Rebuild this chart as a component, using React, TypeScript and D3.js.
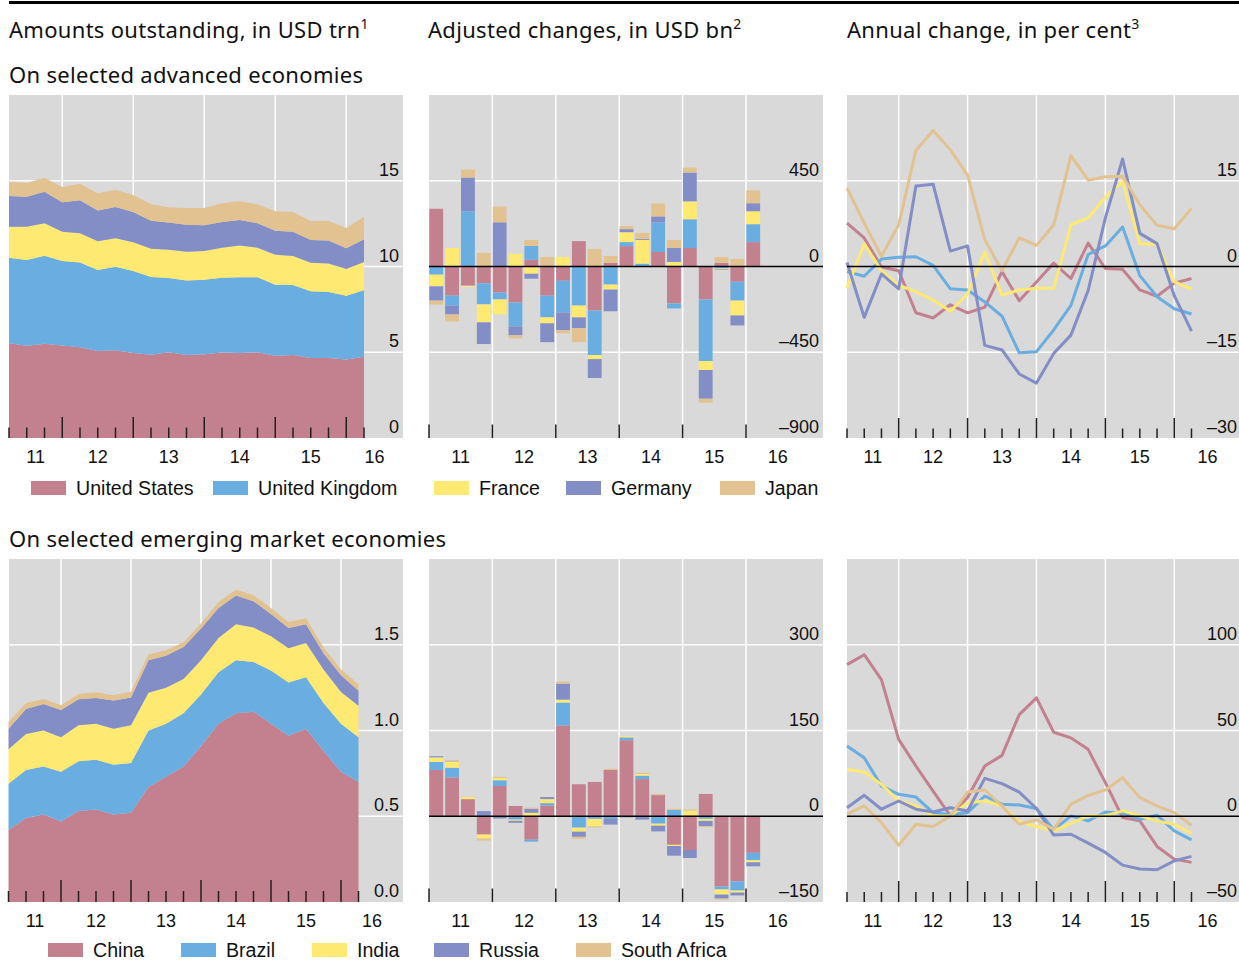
import React, { useEffect, useRef } from 'react';
import * as d3 from 'd3';

const WIDTH = 1239;
const HEIGHT = 961;

// quarters, Q1 2011 .. Q1 2016
const quarters = [
  '2011Q1', '2011Q2', '2011Q3', '2011Q4',
  '2012Q1', '2012Q2', '2012Q3', '2012Q4',
  '2013Q1', '2013Q2', '2013Q3', '2013Q4',
  '2014Q1', '2014Q2', '2014Q3', '2014Q4',
  '2015Q1', '2015Q2', '2015Q3', '2015Q4',
  '2016Q1',
];
const years = [2011, 2012, 2013, 2014, 2015, 2016];

const aeNames = ['United States', 'United Kingdom', 'France', 'Germany', 'Japan'];
const emNames = ['China', 'Brazil', 'India', 'Russia', 'South Africa'];
const colors = ['#c3808f', '#6aade0', '#fee972', '#838ec6', '#e2c290'];

// Amounts outstanding, USD trn
const usAmt = [5.52, 5.38, 5.50, 5.40, 5.29, 5.07, 5.11, 4.96, 4.86, 5.00, 4.84, 4.88, 4.98, 4.96, 5.00, 4.80, 4.84, 4.66, 4.66, 4.57, 4.74];
const ukAmt = [4.99, 5.00, 5.13, 4.92, 4.95, 4.73, 4.88, 4.78, 4.53, 4.33, 4.35, 4.35, 4.37, 4.41, 4.37, 4.14, 4.08, 3.89, 3.85, 3.73, 3.87];
const frAmt = [1.81, 1.94, 1.89, 1.71, 1.70, 1.67, 1.65, 1.67, 1.65, 1.65, 1.67, 1.67, 1.75, 1.86, 1.73, 1.75, 1.69, 1.67, 1.67, 1.55, 1.65];
const deAmt = [1.79, 1.75, 1.84, 1.71, 1.92, 1.79, 1.83, 1.77, 1.63, 1.58, 1.58, 1.50, 1.49, 1.48, 1.42, 1.40, 1.42, 1.33, 1.33, 1.21, 1.33];
const jpAmt = [0.84, 0.80, 0.82, 0.90, 0.97, 1.01, 1.01, 0.99, 0.96, 0.89, 0.97, 1.01, 1.10, 1.09, 1.11, 1.13, 1.15, 1.10, 1.14, 1.18, 1.31];

const cnAmt = [0.42, 0.49, 0.51, 0.47, 0.53, 0.54, 0.51, 0.52, 0.67, 0.73, 0.79, 0.91, 1.04, 1.10, 1.11, 1.04, 0.97, 1.01, 0.88, 0.76, 0.70];
const brAmt = [0.27, 0.28, 0.28, 0.29, 0.29, 0.29, 0.29, 0.29, 0.33, 0.31, 0.31, 0.30, 0.30, 0.31, 0.29, 0.31, 0.31, 0.30, 0.28, 0.28, 0.26];
const inAmt = [0.20, 0.21, 0.21, 0.20, 0.21, 0.21, 0.21, 0.22, 0.22, 0.21, 0.20, 0.20, 0.20, 0.21, 0.20, 0.20, 0.20, 0.20, 0.195, 0.185, 0.185];
const ruAmt = [0.12, 0.145, 0.154, 0.16, 0.152, 0.15, 0.165, 0.163, 0.19, 0.186, 0.187, 0.185, 0.175, 0.167, 0.154, 0.13, 0.117, 0.11, 0.095, 0.097, 0.087];
const saAmt = [0.039, 0.035, 0.03, 0.027, 0.031, 0.033, 0.031, 0.033, 0.035, 0.032, 0.027, 0.029, 0.035, 0.035, 0.035, 0.034, 0.035, 0.035, 0.035, 0.033, 0.037];

// Adjusted changes, USD bn
const usChg = [303, -153, -101, -88, -137, -189, 35, -153, -75, 133, -231, 19, 107, 3, 76, -194, 97, -173, 19, -80, 128];
const ukChg = [-43, -52, 290, -111, -36, -125, 73, -114, -166, -205, -234, -95, 21, 12, 156, -26, 151, -323, -10, -99, 94];
const frChg = [-61, 97, -5, -94, -78, 66, -38, -31, 50, -62, -21, -26, 52, 125, -3, 24, 94, -47, -5, -78, 68];
const deChg = [-75, -47, 177, -114, 232, -47, -26, -99, -94, -57, -99, -114, 16, 5, 31, 73, 151, -151, -3, -52, 42];
const jpChg = [-21, -36, 42, 71, 83, -16, 31, 50, -16, -73, 92, 36, 16, 31, 68, 42, 26, -21, 31, 40, 68];

const cnChg = [81, 68, 30, -32, 53, 18, -41, 19, 159, 56, 60, 81, 133, 65, 37, -50, -59, 39, -123, -114, -64];
const brChg = [14, 17, 0, 0, 10, -6, -3.5, 4, 40, -20, -4.6, -4.6, 5, 6, -13, 11, 1, -4.6, -5, -16, -13];
const inChg = [8, 11, 3.5, -7, 4, -2, 6, 7, 5, -7, -13, 0, 2, 3, -3.5, -2, 9, -3.5, -9, -3.5, -3.5];
const ruChg = [2, 1, 0, 9, -4, -3.5, 7, 3.5, 28, -9, 0, -10, -2, -6, -10, -17, -14, -9, -7, -5, -7];
const saChg = [-1.5, 1, 0.5, -3.5, 2, 0, 2, 0, 3.5, -3.5, -2, 2, 0, 2, 2, 2, 2, -2, -2, 0, 0];

// Annual change, per cent
const usPct = [7.6, 5.0, -0.1, -0.75, -8.1, -9.0, -6.7, -8.1, -7.1, -0.9, -6.0, -2.7, 0.6, -2.1, 4.1, -0.35, -0.5, -4.1, -5.2, -2.9, -2.1];
const ukPct = [-0.9, -1.7, 1.3, 1.6, 1.7, 0.2, -3.9, -4.1, -6.2, -8.7, -15.1, -14.9, -11.1, -6.8, 2.1, 3.6, 6.9, -1.6, -5.3, -7.4, -8.3];
const frPct = [-3.8, 4.0, -0.75, -3.3, -4.4, -5.9, -7.8, -4.8, 2.5, -5.0, -4.1, -3.8, -3.8, 7.3, 8.5, 12.1, 14.9, 4.0, 3.9, -2.7, -3.9];
const dePct = [0.7, -8.9, -1.3, -3.9, 14.1, 14.4, 2.7, 3.6, -13.8, -14.6, -18.8, -20.4, -15.2, -12.0, -4.2, 8.5, 18.8, 5.8, 4.0, -5.1, -11.3];
const jpPct = [13.7, 7.6, 1.8, 7.3, 20.3, 23.8, 20.4, 16.0, 4.7, -0.75, 5.0, 3.7, 7.3, 19.4, 15.1, 15.7, 15.8, 10.8, 7.2, 6.6, 10.2];

const cnPct = [88.4, 94.2, 79.7, 44.8, 29.3, 14.7, 0.2, 10.9, 29.3, 35.5, 59.3, 69.0, 49.0, 45.7, 39.0, 19.6, -0.8, -2.7, -17.6, -25.0, -26.9];
const brPct = [40.9, 34.1, 17.6, 12.8, 11.2, 2.1, 1.0, 2.1, 11.8, 7.0, 6.6, 4.5, -7.9, 0.2, -2.7, 2.5, 1.7, -1.7, 0.6, -8.5, -13.8];
const inPct = [27.3, 25.8, 18.6, 8.9, 6.0, 0.2, 0.2, 7.9, 8.9, 6.0, -3.3, -6.0, -8.5, -4.1, 0.2, 0.2, 3.1, 0.2, -2.7, -4.7, -9.9];
const ruPct = [5.0, 12.2, 4.1, 8.9, 4.1, 2.5, 5.0, 3.1, 22.1, 19.0, 14.1, 4.5, -11.0, -10.5, -15.7, -21.1, -28.5, -30.8, -31.2, -26.0, -23.4];
const saPct = [1.2, 6.0, -3.7, -16.9, -4.7, -6.0, 0.2, 14.1, 15.3, 6.0, -4.7, -2.1, -7.6, 7.0, 12.2, 15.3, 22.5, 10.9, 6.0, 2.1, -5.2];

const aeAmt = [usAmt, ukAmt, frAmt, deAmt, jpAmt];
const emAmt = [cnAmt, brAmt, inAmt, ruAmt, saAmt];
const aeChg = [usChg, ukChg, frChg, deChg, jpChg];
const emChg = [cnChg, brChg, inChg, ruChg, saChg];
const aePct = [usPct, ukPct, frPct, dePct, jpPct];
const emPct = [cnPct, brPct, inPct, ruPct, saPct];

const TEXT_FONT = '"Noto Sans", "Open Sans", sans-serif';
const NUM_FONT = '"Liberation Sans", Arial, sans-serif';

// end of quarter (line/area) and start of quarter (bars)
const qEnd = (q) => +q.slice(0, 4) + (+q.slice(5)) / 4;
const qStart = (q) => +q.slice(0, 4) + (+q.slice(5) - 1) / 4;

function frame(svg, p) {
  const g = svg.append('g');
  const x = d3.scaleLinear().domain(p.xDomain).range(p.xRange);
  const y = d3.scaleLinear().domain(p.yDomain).range([p.bottom, p.top]);

  g.append('rect')
    .attr('x', p.left).attr('y', p.top)
    .attr('width', p.right - p.left).attr('height', p.bottom - p.top)
    .attr('fill', '#d9d9d9');

  // white grid
  g.selectAll('line.vg').data(p.gridYears).join('line')
    .attr('x1', d => x(d)).attr('x2', d => x(d))
    .attr('y1', p.top).attr('y2', p.bottom)
    .attr('stroke', '#fff').attr('stroke-width', 1.5);
  const hGrid = p.yTicks.filter(t => t !== p.yDomain[0] && !(t === 0 && p.zeroLine));
  g.selectAll('line.hg').data(hGrid).join('line')
    .attr('x1', p.left).attr('x2', p.right)
    .attr('y1', d => y(d)).attr('y2', d => y(d))
    .attr('stroke', '#fff').attr('stroke-width', 1.5);

  const data = g.append('g');
  const over = g.append('g');

  if (p.zeroLine) {
    over.append('line')
      .attr('x1', p.left).attr('x2', p.right)
      .attr('y1', y(0)).attr('y2', y(0))
      .attr('stroke', '#000').attr('stroke-width', 1.5);
  }

  // bottom ticks
  over.selectAll('line.tk').data(p.ticks).join('line')
    .attr('x1', d => x(d.t)).attr('x2', d => x(d.t))
    .attr('y1', d => p.bottom - d.len).attr('y2', p.bottom)
    .attr('stroke', '#231f20').attr('stroke-width', 1.5);

  // y labels
  over.selectAll('text.yl').data(p.yTicks).join('text')
    .attr('x', p.right - 4)
    .attr('y', d => y(d) - 5)
    .attr('text-anchor', 'end')
    .attr('font-family', NUM_FONT)
    .attr('font-size', 18)
    .attr('fill', '#111')
    .text(d => p.yFormat(d));

  // x labels, centred on the visible part of each year
  const xEnd = x.invert(p.right);
  const xStart = Math.max(x.invert(p.left), p.xDomain[0]);
  over.selectAll('text.xl').data(years).join('text')
    .attr('x', d => x((Math.max(d, xStart) + Math.min(d + 1, xEnd)) / 2))
    .attr('y', p.bottom + 25)
    .attr('text-anchor', 'middle')
    .attr('font-family', NUM_FONT)
    .attr('font-size', 18)
    .attr('fill', '#111')
    .text(d => String(d).slice(2));

  return { x, y, data };
}

function lineTicks(bigLen, smallLen) {
  return quarters.map(q => {
    const t = qEnd(q);
    return { t, len: Number.isInteger(t) ? bigLen : smallLen };
  });
}

const barTicks = years.map(t => ({ t, len: 13.5 }));
const fmtInt = (d) => d3.format('d')(d).replace('-', '\u2013').replace('\u2212', '\u2013');

function drawArea(svg, p, series) {
  const { x, y, data } = frame(svg, p);
  const rows = quarters.map((q, i) => {
    const r = { t: qEnd(q) };
    series.forEach((s, k) => { r[k] = s[i]; });
    return r;
  });
  const stacked = d3.stack().keys(series.map((_, k) => k))(rows);
  const area = d3.area()
    .x(d => x(d.data.t))
    .y0(d => y(d[0]))
    .y1(d => y(d[1]));
  data.selectAll('path').data(stacked).join('path')
    .attr('d', area)
    .attr('fill', (_, k) => colors[k]);
}

function drawBars(svg, p, series) {
  const { x, y, data } = frame(svg, p);
  const rows = quarters.map((q, i) => {
    const r = { t: qStart(q) };
    series.forEach((s, k) => { r[k] = s[i]; });
    return r;
  });
  const stacked = d3.stack().keys(series.map((_, k) => k)).offset(d3.stackOffsetDiverging)(rows);
  const slot = x(2011.25) - x(2011);
  stacked.forEach((layer, k) => {
    data.append('g').attr('fill', colors[k])
      .selectAll('rect').data(layer).join('rect')
      .attr('x', d => x(d.data.t) + 0.3)
      .attr('width', slot - 2)
      .attr('y', d => y(Math.max(d[0], d[1])))
      .attr('height', d => Math.abs(y(d[0]) - y(d[1])));
  });
}

function drawLines(svg, p, series) {
  const { x, y, data } = frame(svg, p);
  const line = d3.line()
    .x((_, i) => x(qEnd(quarters[i])))
    .y(d => y(d))
    .curve(d3.curveLinear);
  series.forEach((s, k) => {
    data.append('path')
      .attr('d', line(s))
      .attr('fill', 'none')
      .attr('stroke', colors[k])
      .attr('stroke-width', 3)
      .attr('stroke-linejoin', 'round');
  });
}

function legend(svg, items, xs, y) {
  items.forEach((name, k) => {
    svg.append('rect')
      .attr('x', xs[k]).attr('y', y)
      .attr('width', 35).attr('height', 14)
      .attr('fill', colors[k]);
    svg.append('text')
      .attr('x', xs[k] + 45).attr('y', y + 14)
      .attr('font-family', NUM_FONT)
      .attr('font-size', 19.6)
      .attr('fill', '#111')
      .text(name);
  });
}

function title(svg, x, y, text, sup) {
  const t = svg.append('text')
    .attr('x', x).attr('y', y)
    .attr('font-family', TEXT_FONT)
    .attr('font-size', 22)
    .attr('letter-spacing', 0.3)
    .attr('fill', '#111')
    .text(text);
  if (sup) {
    t.append('tspan').attr('dy', -9).attr('font-size', 14).text(sup);
  }
}

export default function App() {
  const svgRef = useRef(null);

  useEffect(() => {
    const svg = d3.select(svgRef.current);
    svg.selectAll('*').remove();

    svg.append('rect').attr('x', 9).attr('y', 1).attr('width', WIDTH - 9).attr('height', 3).attr('fill', '#000');

    title(svg, 9, 38, 'Amounts outstanding, in USD trn', '1');
    title(svg, 428, 38, 'Adjusted changes, in USD bn', '2');
    title(svg, 847, 38, 'Annual change, in per cent', '3');
    title(svg, 9, 83, 'On selected advanced economies', null);
    title(svg, 9, 547, 'On selected emerging market economies', null);

    const gridYears = [2012, 2013, 2014, 2015, 2016];

    // top row
    drawArea(svg, {
      left: 9, right: 403, top: 95, bottom: 438,
      xDomain: [2011.25, 2016.25], xRange: [9, 364],
      yDomain: [0, 20], yTicks: [0, 5, 10, 15], yFormat: fmtInt,
      gridYears, ticks: lineTicks(21, 10.5), zeroLine: false,
    }, aeAmt);
    drawBars(svg, {
      left: 429, right: 823, top: 95, bottom: 438,
      xDomain: [2011, 2016], xRange: [429, 746],
      yDomain: [-900, 900], yTicks: [-900, -450, 0, 450], yFormat: fmtInt,
      gridYears, ticks: barTicks, zeroLine: true,
    }, aeChg);
    drawLines(svg, {
      left: 847, right: 1241, top: 95, bottom: 438,
      xDomain: [2011.25, 2016.25], xRange: [847, 1191.5],
      yDomain: [-30, 30], yTicks: [-30, -15, 0, 15], yFormat: fmtInt,
      gridYears, ticks: lineTicks(20, 9.5), zeroLine: true,
    }, aePct);

    legend(svg, aeNames, [31, 213, 434, 566, 720], 481);

    // bottom row
    drawArea(svg, {
      left: 9, right: 403, top: 559, bottom: 902,
      xDomain: [2011.25, 2016.25], xRange: [8.5, 358.5],
      yDomain: [0, 2], yTicks: [0, 0.5, 1, 1.5], yFormat: d3.format('.1f'),
      gridYears, ticks: lineTicks(22, 11), zeroLine: false,
    }, emAmt);
    drawBars(svg, {
      left: 429, right: 823, top: 559, bottom: 902,
      xDomain: [2011, 2016], xRange: [429, 746],
      yDomain: [-150, 450], yTicks: [-150, 0, 150, 300], yFormat: fmtInt,
      gridYears, ticks: barTicks, zeroLine: true,
    }, emChg);
    drawLines(svg, {
      left: 847, right: 1241, top: 559, bottom: 902,
      xDomain: [2011.25, 2016.25], xRange: [847, 1191.5],
      yDomain: [-50, 150], yTicks: [-50, 0, 50, 100], yFormat: fmtInt,
      gridYears, ticks: lineTicks(21, 10), zeroLine: true,
    }, emPct);

    legend(svg, emNames, [48, 181, 312, 434, 576], 943);
  }, []);

  return (
    <div style={{ position: 'absolute', left: 0, top: 0, width: WIDTH, height: HEIGHT, background: '#fff' }}>
      <svg ref={svgRef} width={WIDTH} height={HEIGHT} style={{ display: 'block' }} />
    </div>
  );
}
